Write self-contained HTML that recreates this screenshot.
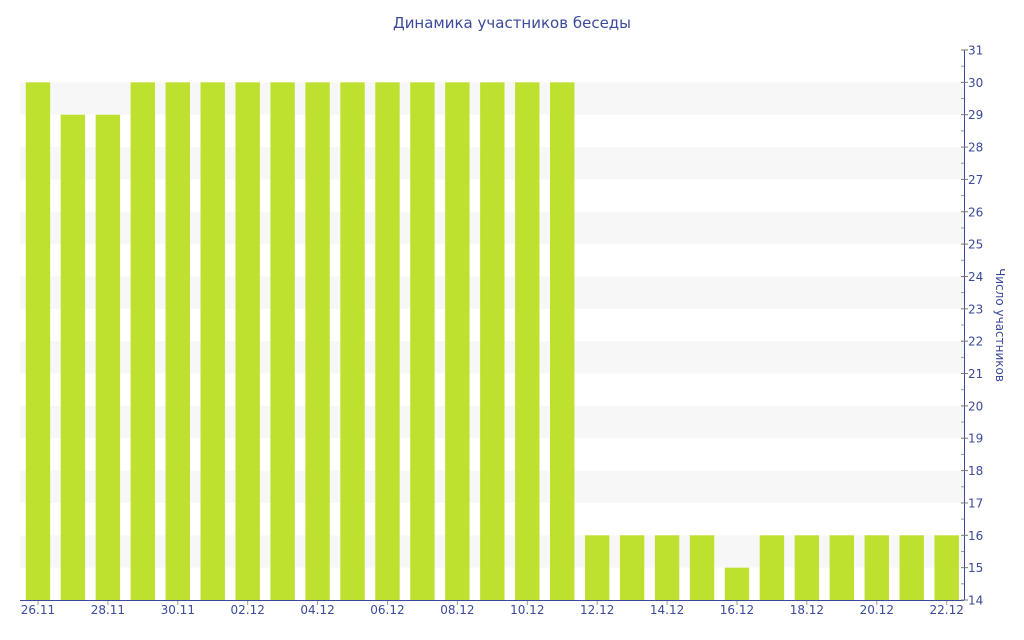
<!DOCTYPE html><html><head><meta charset="utf-8"><style>body{margin:0;background:#fff}svg{display:block}text{font-family:"DejaVu Sans","Liberation Sans",sans-serif;fill:#3b4a9a}</style></head><body>
<svg width="1024" height="640" xmlns="http://www.w3.org/2000/svg">
<text x="512" y="28" font-size="15" text-anchor="middle">Динамика участников беседы</text>
<g id="g"></g>
<text transform="translate(996,325) rotate(90)" font-size="12" text-anchor="middle">Число участников</text>
</svg>
<script>
var s='',y0=600,u=550/17,x0=20.5,sl=34.95;
function Y(v){return y0-(v-14)*u}
for(var v=15;v<30;v+=2)s+='<rect x="20" y="'+Y(v+1)+'" width="944" height="'+u+'" fill="#f7f7f7"/>';
var d=[30,29,29,30,30,30,30,30,30,30,30,30,30,30,30,30,16,16,16,16,15,16,16,16,16,16,16];
var lab=['26.11','28.11','30.11','02.12','04.12','06.12','08.12','10.12','12.12','14.12','16.12','18.12','20.12','22.12'];
for(var i=0;i<27;i++){var cx=x0+sl*(i+0.5);s+='<rect x="'+(cx-12.2)+'" y="'+Y(d[i])+'" width="24.4" height="'+(y0-Y(d[i]))+'" fill="#bde12e"/>';
if(i%2==0){s+='<line x1="'+cx+'" y1="600" x2="'+cx+'" y2="605" stroke="#999"/><text x="'+cx+'" y="614" font-size="12" text-anchor="middle">'+lab[i/2]+'</text>';}}
s+='<line x1="20" y1="600.5" x2="964" y2="600.5" stroke="#3b4a9a"/><line x1="964.5" y1="50" x2="964.5" y2="600" stroke="#3b4a9a"/>';
for(var v=14;v<=31;v++){s+='<line x1="961" y1="'+Y(v)+'" x2="968" y2="'+Y(v)+'" stroke="#777"/><text x="968" y="'+(Y(v)+4.5)+'" font-size="12">'+v+'</text>';if(v<31)s+='<line x1="961" y1="'+Y(v+0.5)+'" x2="964" y2="'+Y(v+0.5)+'" stroke="#999"/>';}
document.getElementById('g').innerHTML=s;
</script></body></html>
